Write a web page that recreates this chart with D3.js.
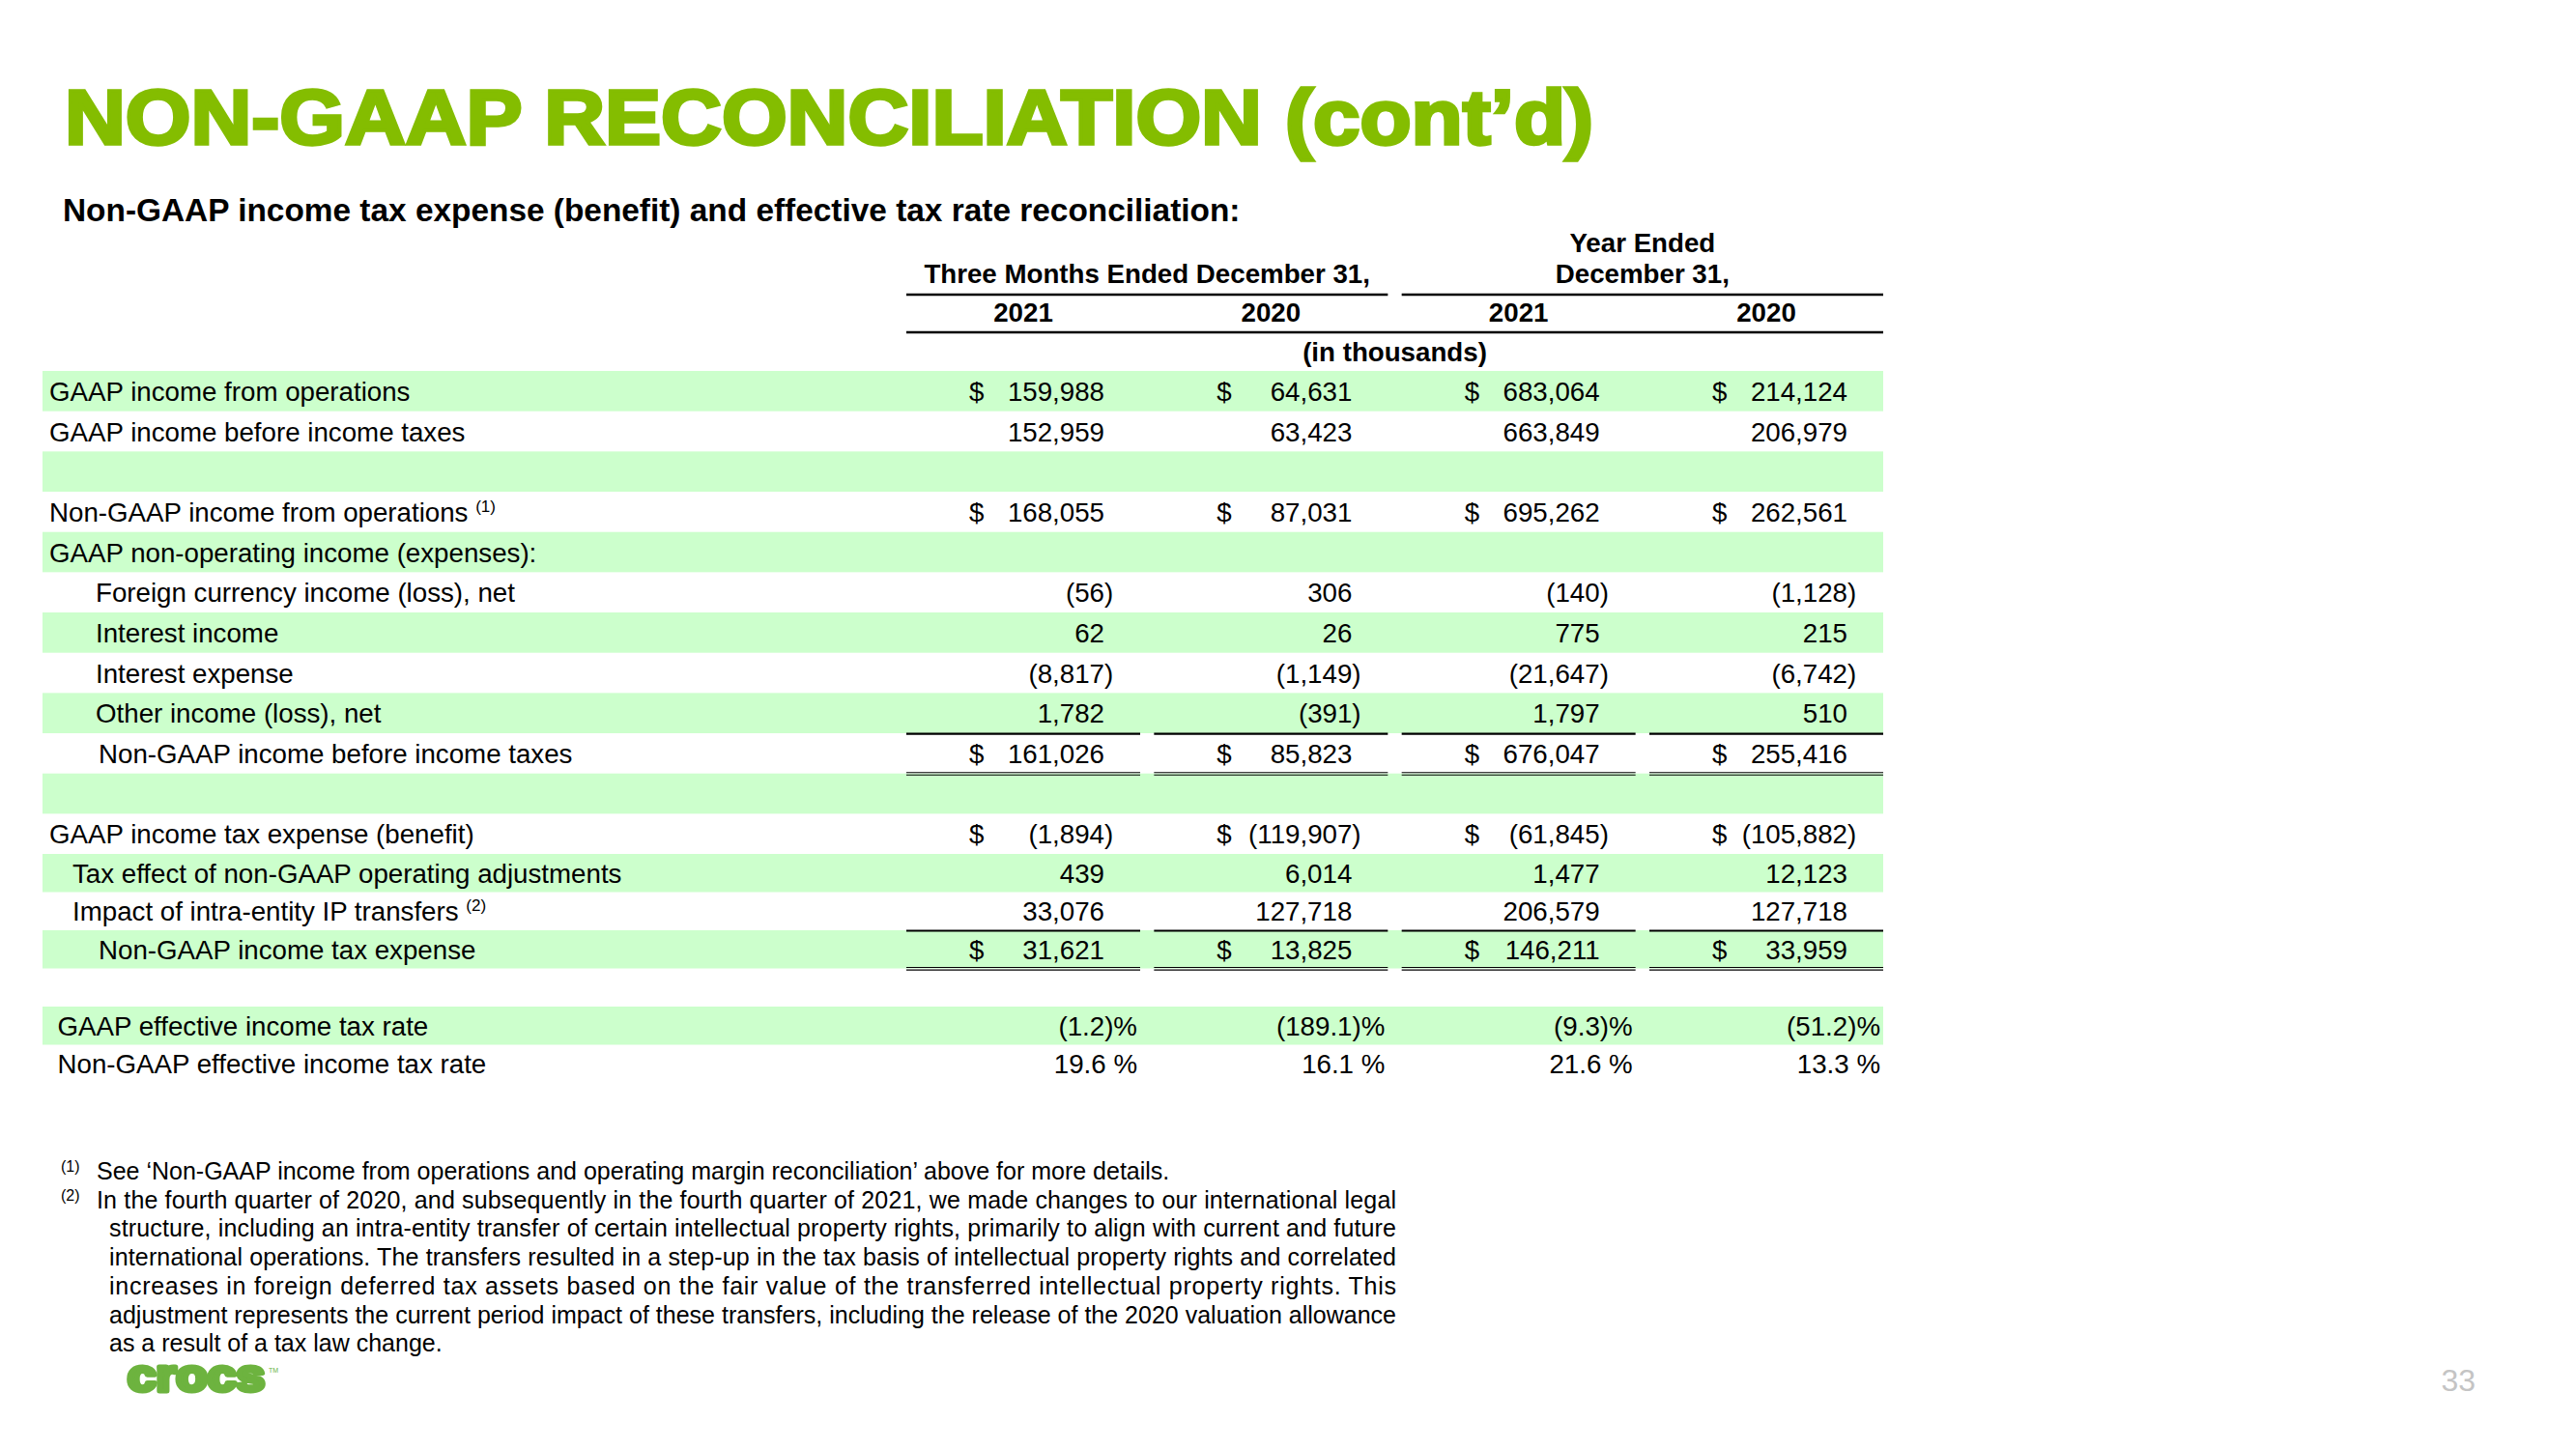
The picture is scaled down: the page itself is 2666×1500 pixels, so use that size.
<!DOCTYPE html>
<html>
<head>
<meta charset="utf-8">
<script src="https://cdn.jsdelivr.net/npm/d3@7"></script>
<style>
  body { margin: 0; background: #fff; }
  text { font-family: Arial, "Liberation Sans", sans-serif; }
</style>
</head>
<body>
<div id="slide"></div>
<script>
// row labels of the reconciliation table
const rowLabels = [
  "GAAP income from operations",
  "GAAP income before income taxes",
  "",
  "Non-GAAP income from operations",
  "GAAP non-operating income (expenses):",
  "Foreign currency income (loss), net",
  "Interest income",
  "Interest expense",
  "Other income (loss), net",
  "Non-GAAP income before income taxes",
  "",
  "GAAP income tax expense (benefit)",
  "Tax effect of non-GAAP operating adjustments",
  "Impact of intra-entity IP transfers",
  "Non-GAAP income tax expense",
  "",
  "GAAP effective income tax rate",
  "Non-GAAP effective income tax rate"
];
const rowNotes = [null, null, null, "(1)", null, null, null, null, null, null, null, null, null, "(2)", null, null, null, null];
// hierarchy level of each row (0 = top level)
const rowLevel = [0, 0, 0, 0, 0, 2, 2, 2, 2, 3, 0, 0, 1, 1, 3, 0, 0.5, 0.5];

const periods = ["Three Months Ended December 31,", "Year Ended|December 31,"];
const years = ["2021", "2020", "2021", "2020"];

// values in thousands; the last two rows are percentages
const q4_2021 = [159988, 152959, null, 168055, null, -56, 62, -8817, 1782, 161026, null, -1894, 439, 33076, 31621, null, -1.2, 19.6];
const q4_2020 = [64631, 63423, null, 87031, null, 306, 26, -1149, -391, 85823, null, -119907, 6014, 127718, 13825, null, -189.1, 16.1];
const fy_2021 = [683064, 663849, null, 695262, null, -140, 775, -21647, 1797, 676047, null, -61845, 1477, 206579, 146211, null, -9.3, 21.6];
const fy_2020 = [214124, 206979, null, 262561, null, -1128, 215, -6742, 510, 255416, null, -105882, 12123, 127718, 33959, null, -51.2, 13.3];
const columns = [q4_2021, q4_2020, fy_2021, fy_2020];

const dollarRows = [0, 3, 9, 11, 14];
const percentRows = [16, 17];
const totalRows = [9, 14];

const footnotes = [
  ["(1)", ["See \u2018Non-GAAP income from operations and operating margin reconciliation\u2019 above for more details."]],
  ["(2)", ["In the fourth quarter of 2020, and subsequently in the fourth quarter of 2021, we made changes to our international legal",
           "structure, including an intra-entity transfer of certain intellectual property rights, primarily to align with current and future",
           "international operations. The transfers resulted in a step-up in the tax basis of intellectual property rights and correlated",
           "increases in foreign deferred tax assets based on the fair value of the transferred intellectual property rights. This",
           "adjustment represents the current period impact of these transfers, including the release of the 2020 valuation allowance",
           "as a result of a tax law change."]]
];

const W = 2666, H = 1500;
const green = "#84bd00";
const band = "#ccffcc";
const fs = 27.7;

const svg = d3.select("#slide").append("svg")
  .attr("width", W).attr("height", H);

// title
svg.append("text")
  .attr("x", 67).attr("y", 149)
  .attr("textLength", 1582).attr("lengthAdjust", "spacingAndGlyphs")
  .style("font-size", "80px").style("font-weight", "bold")
  .attr("fill", green).attr("stroke", green).attr("stroke-width", 3.5)
  .text("NON-GAAP RECONCILIATION (cont\u2019d)");

svg.append("text")
  .attr("x", 65).attr("y", 229)
  .style("font-size", "33.4px").style("font-weight", "bold")
  .text("Non-GAAP income tax expense (benefit) and effective tax rate reconciliation:");

// row geometry: first 12 rows are slightly taller than the rest
const rowTop = i => i < 12 ? 384 + i * 41.67 : 884 + (i - 12) * 39.5;
const rowH = i => i < 12 ? 41.67 : 39.5;

const tableLeft = 44, tableRight = 1949;
const colLeft = d3.scaleLinear().domain([0, 3]).range([938, 1707]);
const segW = 242;
const indent = d3.scaleLinear().domain([0, 3]).range([51, 102]);
const indentX = l => l === 2 ? 99 : l === 1 ? 75 : indent(l);

// green bands
svg.selectAll("rect.band")
  .data(rowLabels.map((d, i) => i).filter(i => i % 2 === 0))
  .enter().append("rect")
  .attr("class", "band")
  .attr("x", tableLeft).attr("width", tableRight - tableLeft)
  .attr("y", d => rowTop(d)).attr("height", d => rowH(d))
  .attr("fill", band);

// header
const hdr = svg.append("g").style("font-weight", "bold").style("font-size", fs + "px")
  .attr("text-anchor", "middle");
hdr.append("text").attr("x", (colLeft(0) + colLeft(1) + segW) / 2).attr("y", 293).text(periods[0]);
periods[1].split("|").forEach((t, k) => {
  hdr.append("text").attr("x", (colLeft(2) + colLeft(3) + segW) / 2).attr("y", 261 + k * 32).text(t);
});
[[0, 1], [2, 3]].forEach(p => {
  svg.append("line")
    .attr("x1", colLeft(p[0])).attr("x2", colLeft(p[1]) + segW)
    .attr("y1", 305).attr("y2", 305)
    .attr("stroke", "#000").attr("stroke-width", 2.5);
});
years.forEach((y, c) => {
  hdr.append("text").attr("x", colLeft(c) + segW / 2).attr("y", 333).text(y);
});
svg.append("line")
  .attr("x1", colLeft(0)).attr("x2", colLeft(3) + segW)
  .attr("y1", 344).attr("y2", 344)
  .attr("stroke", "#000").attr("stroke-width", 2.5);
hdr.append("text").attr("x", (colLeft(0) + colLeft(3) + segW) / 2).attr("y", 374).text("(in thousands)");

// labels
const labels = svg.append("g").style("font-size", fs + "px");
rowLabels.forEach((lab, i) => {
  if (!lab) return;
  const t = labels.append("text")
    .attr("x", indentX(rowLevel[i]))
    .attr("y", rowTop(i) + rowH(i) / 2 + 10)
    .text(lab);
  if (rowNotes[i]) {
    t.append("tspan").text(" ");
    t.append("tspan").attr("dy", -10).style("font-size", "17px").text(rowNotes[i]);
  }
});

// values
const fmt = d3.format(",");
const fmtPct = d3.format(".1f");
const vals = svg.append("g").style("font-size", fs + "px");
columns.forEach((col, c) => {
  const left = colLeft(c);
  const numRight = left + segW - 37;
  col.forEach((v, i) => {
    if (v === null) return;
    const y = rowTop(i) + rowH(i) / 2 + 10;
    if (percentRows.includes(i)) {
      vals.append("text").attr("x", left + segW - 3).attr("y", y).attr("text-anchor", "end")
        .text(v < 0 ? "(" + fmtPct(-v) + ")%" : fmtPct(v) + " %");
      return;
    }
    if (dollarRows.includes(i)) {
      vals.append("text").attr("x", left + 65).attr("y", y).text("$");
    }
    if (v < 0) {
      vals.append("text").attr("x", numRight).attr("y", y).attr("text-anchor", "end").text("(" + fmt(-v));
      vals.append("text").attr("x", numRight).attr("y", y).text(")");
    } else {
      vals.append("text").attr("x", numRight).attr("y", y).attr("text-anchor", "end").text(fmt(v));
    }
  });
});

// total rules: single above, double below
totalRows.forEach(i => {
  d3.range(4).forEach(c => {
    const x1 = colLeft(c), x2 = colLeft(c) + segW;
    svg.append("line").attr("x1", x1).attr("x2", x2)
      .attr("y1", rowTop(i) + 0.5).attr("y2", rowTop(i) + 0.5)
      .attr("stroke", "#000").attr("stroke-width", 2.2);
    [-1, 1.6].forEach(dy => {
      svg.append("line").attr("x1", x1).attr("x2", x2)
        .attr("y1", rowTop(i) + rowH(i) + dy).attr("y2", rowTop(i) + rowH(i) + dy)
        .attr("stroke", "#000").attr("stroke-width", 1.1);
    });
  });
});

// footnotes
const fn = svg.append("g").style("font-size", "25px");
let fy = 1221;
footnotes.forEach(([mark, lines], k) => {
  fn.append("text").attr("x", 63).attr("y", fy - 8).style("font-size", "16px").text(mark);
  lines.forEach((ln, j) => {
    const t = fn.append("text")
      .attr("x", j === 0 ? 100 : 113)
      .attr("y", fy)
      .text(ln);
    if (k === 1 && j < lines.length - 1) {
      t.attr("textLength", 1445 - (j === 0 ? 100 : 113)).attr("lengthAdjust", "spacing");
    }
    fy += 29.7;
  });
});

// logo and page number
svg.append("text")
  .attr("x", 132).attr("y", 1440)
  .attr("textLength", 142).attr("lengthAdjust", "spacingAndGlyphs")
  .style("font-size", "46px").style("font-weight", "bold")
  .attr("fill", "#6db33f").attr("stroke", "#6db33f").attr("stroke-width", 5)
  .attr("stroke-linejoin", "round")
  .text("crocs");
svg.append("text")
  .attr("x", 278).attr("y", 1421)
  .style("font-size", "7px").attr("fill", "#6db33f")
  .text("TM");

svg.append("text")
  .attr("x", 2562).attr("y", 1440).attr("text-anchor", "end")
  .style("font-size", "32px").attr("fill", "#c4c4c4")
  .text("33");
</script>
</body>
</html>
